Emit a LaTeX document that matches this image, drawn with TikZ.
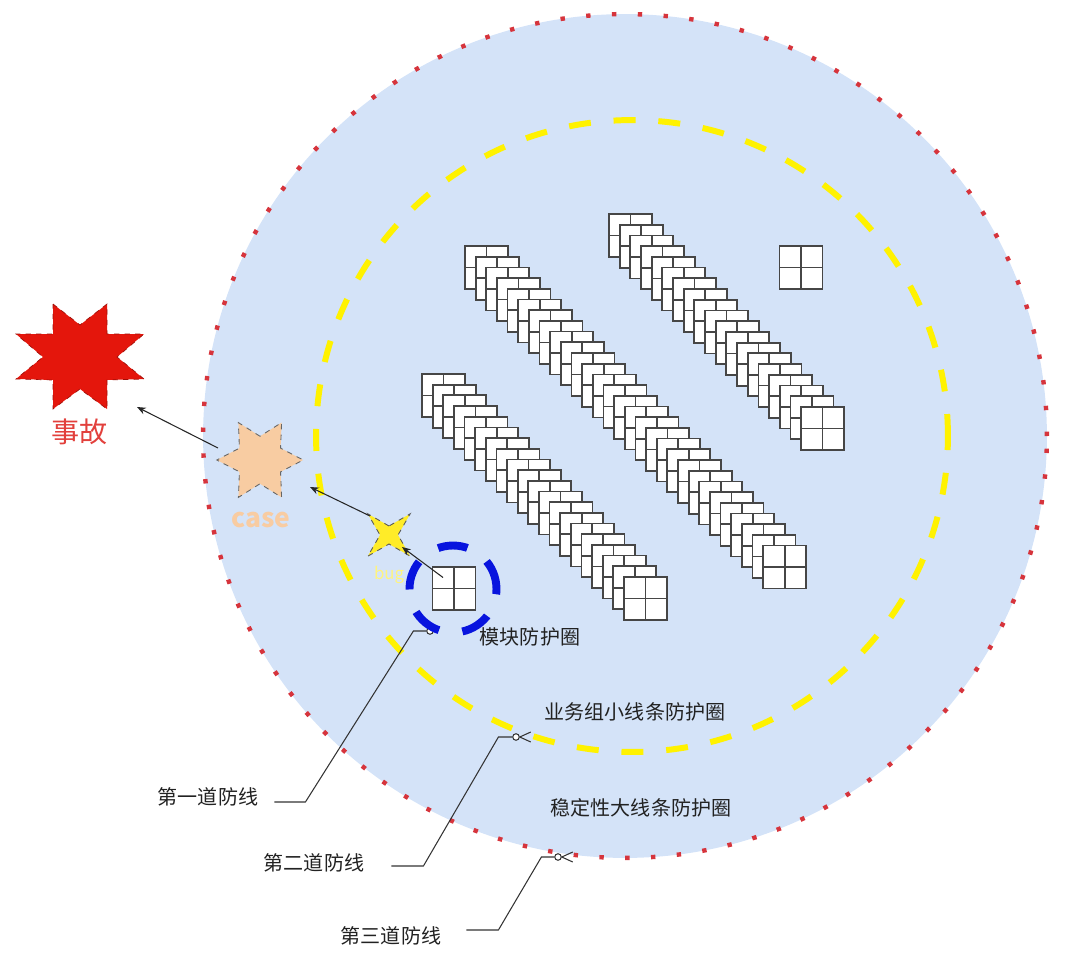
\documentclass[tikz,border=0pt]{standalone}
\usepackage{fontspec}
\setmainfont{Noto Sans CJK SC}
\usetikzlibrary{arrows.meta,shapes.geometric}

\definecolor{ringblue}{RGB}{212,227,248}
\definecolor{dotred}{RGB}{214,52,60}
\definecolor{lineyel}{RGB}{255,242,0}
\definecolor{modblue}{RGB}{8,20,222}
\definecolor{cellgray}{RGB}{70,70,70}
\definecolor{accred}{RGB}{228,22,12}
\definecolor{caseorg}{RGB}{248,204,162}
\definecolor{bugyel}{RGB}{255,236,40}
\definecolor{txtred}{RGB}{226,64,60}
\definecolor{txtgray}{RGB}{34,34,34}

\begin{document}
\begin{tikzpicture}[x=0.02cm, y=-0.02cm,
    cell/.style={draw=cellgray, fill=white, line width=1pt, minimum size=0.86cm, inner sep=0pt,
      path picture={\draw[cellgray, line width=1pt] (path picture bounding box.north) -- (path picture bounding box.south)
        (path picture bounding box.west) -- (path picture bounding box.east);}},
    outerring/.style={circle, minimum size=16.88cm, inner sep=0pt, fill=ringblue, draw=dotred, line width=2.5pt, dash pattern=on 2.5pt off 12.2pt},
    midring/.style={circle, minimum size=12.64cm, inner sep=0pt, draw=lineyel, line width=3.4pt, dash pattern=on 12.5pt off 13pt},
    modring/.style={circle, minimum size=1.74cm, inner sep=0pt, draw=modblue, line width=4.5pt, dash pattern=on 17pt off 13.5pt},
    lbl/.style={font=\fontsize{11.4}{13}\selectfont, text=txtgray, inner sep=0pt},
    arr/.style={-{Stealth[length=5pt, width=4pt]}, draw=black!85, line width=0.6pt},
    callout/.style={draw=black!80, line width=0.6pt},
    endmark/.style={circle, draw=black!80, fill=white, line width=0.6pt, minimum size=0.13cm, inner sep=0pt}
]
\useasboundingbox (0,0) rectangle (1080,954);

\node[outerring] (ring3) at (625,436) {};
\node[midring] (ring2) at (632,436) {};

\foreach \i in {0,...,28}
  \node[cell] (a\i) at ({486.5+10.65*\i},{267.5+10.7*\i}) {};
\foreach \i in {0,...,18}
  \node[cell] (b\i) at ({630.5+10.67*\i},{235.5+10.72*\i}) {};
\foreach \i in {0,...,19}
  \node[cell] (c\i) at ({443.5+10.63*\i},{395.5+10.68*\i}) {};
\node[cell] (single) at (801,267.5) {};

\node[lbl] (l1) at (208,797) {第一道防线};
\node[lbl] (l2) at (314,863) {第二道防线};
\node[lbl] (l3) at (391,936) {第三道防线};
\node[endmark] (e1) at (430,631) {};
\node[endmark] (e2) at (516,737) {};
\node[endmark] (e3) at (558,857) {};
\draw[callout] (l1.east) ++(16,5) -- ++(31,0) -- ++(108,-171) -- (e1.west);
\draw[callout] (l2.east) ++(27,3) -- ++(32,0) -- ++(75,-129) -- (e2.west);
\draw[callout] (l3.east) ++(25,-6) -- ++(32,0) -- ++(43,-73) -- (e3.west);
\draw[callout] (e2.east) -- ++(11,-5) (e2.east) -- ++(11,5);
\draw[callout] (e3.east) -- ++(11,-5) (e3.east) -- ++(11,5);

\node[modring] (modring) at (453,589) {};
\node[cell] (mod) at (454,588.5) {};

\node[lbl] (r1) at (530,637) {模块防护圈};
\node[lbl] (r2) at (635,712) {业务组小线条防护圈};
\node[lbl] (r3) at (641,808) {稳定性大线条防护圈};

\draw[fill=accred, draw=accred!70!black, dashed, line width=0.4pt]
  (53,304) -- (80,325) -- (107,304) -- (107,334) -- (144,334) -- (117,357) -- (144,379) -- (107,380)
  -- (107,409) -- (80,389) -- (53,409) -- (53,380) -- (16,379) -- (43,357) -- (16,334) -- (53,334) -- cycle;
\coordinate (acc) at (80,356);
\node[star, star points=6, star point ratio=0.55, minimum size=0.95cm, inner sep=0pt,
  fill=caseorg, draw=black!60, dashed, line width=0.5pt] (case) at (260,460) {};
\node[star, star points=4, star point ratio=0.3, minimum size=0.36cm, inner sep=0pt,
  fill=bugyel, draw=black!65, dashed, line width=0.5pt] (bug) at (389,535) {};

\node[font=\fontsize{16}{18}\selectfont, text=txtred, inner sep=0pt] (acct) at (80,432) {事故};
\node[font=\fontsize{15}{17}\selectfont\bfseries, text=caseorg, inner sep=0pt, anchor=base] (caset) at (261,527) {case};
\node[font=\fontsize{9.5}{11}\selectfont, text=bugyel!60, inner sep=0pt] (bugt) at (389,575) {bug};

\draw[arr] ([shift={(-11,-11)}]mod.center) -- ([shift={(13,12)}]bug.center);
\draw[arr] ([shift={(-19,-19)}]bug.center) -- ([shift={(50,27)}]case.center);
\draw[arr] ([shift={(-42,-12)}]case.center) -- ([shift={(57,51)}]acc);
\end{tikzpicture}
\end{document}
